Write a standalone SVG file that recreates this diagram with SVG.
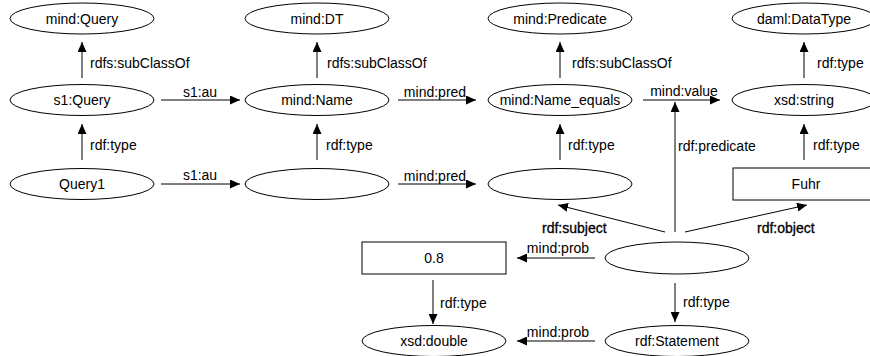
<svg xmlns="http://www.w3.org/2000/svg" width="870" height="356" viewBox="0 0 870 356">
<style>
  .n ellipse, .n rect { fill: #fff; stroke: #000; stroke-width: 1; }
  text { font-family: "Liberation Sans", Arial, sans-serif; font-size: 14px; fill: #000; }
  .t { text-anchor: middle; }
  .e line { stroke: #000; stroke-width: 1; marker-end: url(#ah); }
  .b { stroke: #000; stroke-width: 0.3; }
</style>
<defs>
  <marker id="ah" markerUnits="userSpaceOnUse" markerWidth="10" markerHeight="9" refX="10" refY="4.5" orient="auto">
    <path d="M0,0 L10,4.5 L0,9 z" fill="#000"/>
  </marker>
</defs>
<rect width="870" height="356" fill="#fff"/>
<g id="n-mindQuery" class="n"><ellipse cx="82" cy="18.5" rx="72" ry="15.5"/><text class="t" x="82" y="23.5">mind:Query</text></g>
<g id="n-mindDT" class="n"><ellipse cx="317" cy="18.5" rx="72" ry="15.5"/><text class="t" x="317" y="23.5">mind:DT</text></g>
<g id="n-mindPredicate" class="n"><ellipse cx="560" cy="18.5" rx="72" ry="15.5"/><text class="t" x="560" y="23.5">mind:Predicate</text></g>
<g id="n-damlDataType" class="n"><ellipse cx="804" cy="18.5" rx="72" ry="15.5"/><text class="t" x="804" y="23.5">daml:DataType</text></g>
<g id="n-s1Query" class="n"><ellipse cx="82" cy="100" rx="72" ry="15.5"/><text class="t" x="82" y="105">s1:Query</text></g>
<g id="n-mindName" class="n"><ellipse cx="317" cy="100" rx="72" ry="15.5"/><text class="t" x="317" y="105">mind:Name</text></g>
<g id="n-mindNameEquals" class="n"><ellipse cx="560" cy="100" rx="72" ry="15.5"/><text class="t" x="560" y="105">mind:Name_equals</text></g>
<g id="n-xsdString" class="n"><ellipse cx="804" cy="100" rx="72" ry="15.5"/><text class="t" x="804" y="105">xsd:string</text></g>
<g id="n-query1" class="n"><ellipse cx="82" cy="184" rx="72" ry="15.5"/><text class="t" x="82" y="189">Query1</text></g>
<g id="n-blankName" class="n"><ellipse cx="317" cy="184" rx="72" ry="15.5"/></g>
<g id="n-blankPred" class="n"><ellipse cx="560" cy="184" rx="72" ry="15.5"/></g>
<g id="n-fuhr" class="n"><rect x="733" y="168" width="144" height="32"/><text class="t" x="806" y="189">Fuhr</text></g>
<g id="n-prob" class="n"><rect x="362" y="242" width="144" height="32"/><text class="t" x="434" y="263">0.8</text></g>
<g id="n-statement" class="n"><ellipse cx="677" cy="258" rx="72" ry="16"/></g>
<g id="n-xsdDouble" class="n"><ellipse cx="434" cy="341" rx="72" ry="15.5"/><text class="t" x="434" y="346">xsd:double</text></g>
<g id="n-rdfStatement" class="n"><ellipse cx="677" cy="341" rx="72" ry="15.5"/><text class="t" x="677" y="346">rdf:Statement</text></g>
<g id="connectors" class="e">
  <line x1="82" y1="78" x2="82" y2="42"/>
  <line x1="317" y1="78" x2="317" y2="42"/>
  <line x1="560" y1="78" x2="560" y2="42"/>
  <line x1="804" y1="78" x2="804" y2="42"/>
  <line x1="82" y1="160" x2="82" y2="124"/>
  <line x1="317" y1="160" x2="317" y2="124"/>
  <line x1="560" y1="160" x2="560" y2="124"/>
  <line x1="804" y1="160" x2="804" y2="124"/>
  <line x1="161" y1="100" x2="240" y2="100"/>
  <line x1="161" y1="184" x2="240" y2="184"/>
  <line x1="398" y1="100" x2="476" y2="100"/>
  <line x1="398" y1="184" x2="476" y2="184"/>
  <line x1="643" y1="100" x2="720" y2="100"/>
  <line x1="675" y1="232" x2="675" y2="102"/>
  <line x1="665" y1="232" x2="558" y2="205"/>
  <line x1="685" y1="232" x2="807" y2="205"/>
  <line x1="595" y1="258" x2="517" y2="258"/>
  <line x1="595" y1="341" x2="517" y2="341"/>
  <line x1="433" y1="280" x2="433" y2="324"/>
  <line x1="675" y1="283" x2="675" y2="322"/>
  <text x="90" y="68">rdfs:subClassOf</text>
  <text x="327" y="68">rdfs:subClassOf</text>
  <text x="572" y="68">rdfs:subClassOf</text>
  <text x="817" y="68">rdf:type</text>
  <text x="90" y="150">rdf:type</text>
  <text x="326" y="150">rdf:type</text>
  <text x="568" y="150">rdf:type</text>
  <text x="813" y="150">rdf:type</text>
  <text x="678" y="151">rdf:predicate</text>
  <text class="t" x="200" y="97">s1:au</text>
  <text class="t" x="200" y="180">s1:au</text>
  <text class="t" x="435" y="97">mind:pred</text>
  <text class="t" x="435" y="181">mind:pred</text>
  <text class="t" x="684" y="96">mind:value</text>
  <text class="b" x="542" y="233">rdf:subject</text>
  <text class="b" x="757" y="233">rdf:object</text>
  <text class="t" x="558" y="253">mind:prob</text>
  <text class="t" x="558" y="337">mind:prob</text>
  <text x="440" y="308">rdf:type</text>
  <text x="683" y="307">rdf:type</text>
</g>
</svg>
